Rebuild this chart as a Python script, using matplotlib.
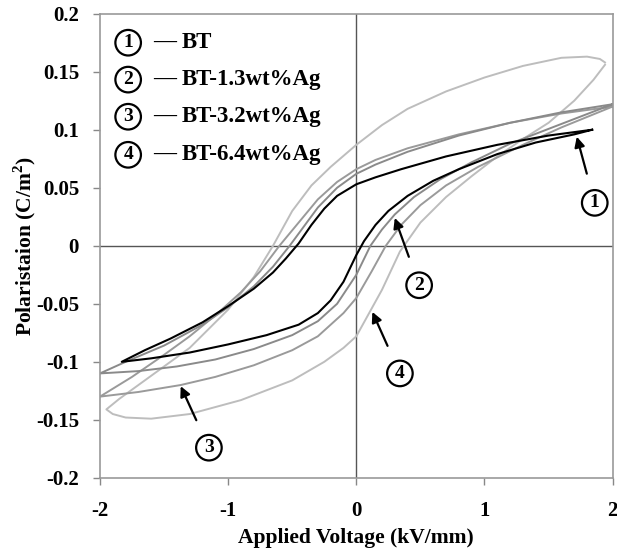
import matplotlib
matplotlib.use("Agg")
import matplotlib.pyplot as plt

plt.rcParams['font.family'] = ['Liberation Serif', 'DejaVu Serif']
plt.rcParams['font.weight'] = 'bold'
plt.rcParams['axes.unicode_minus'] = False
plt.rcParams['mathtext.fontset'] = 'custom'
plt.rcParams['mathtext.rm'] = 'Liberation Serif:bold'
plt.rcParams['mathtext.bf'] = 'Liberation Serif:bold'

# ---- data (upper branch: +E -> -E, lower branch: -E -> +E)
bt_up_x = [1.84, 1.5, 1.1, 0.7, 0.35, 0.15, 0.0, -0.15, -0.25, -0.35, -0.45, -0.55, -0.65, -0.8, -1.0, -1.2, -1.45, -1.65, -1.83]
bt_up_y = [0.100, 0.095, 0.087, 0.077, 0.066, 0.059, 0.053, 0.043, 0.032, 0.018, 0.002, -0.011, -0.023, -0.037, -0.052, -0.066, -0.080, -0.090, -0.100]
bt_lo_x = [-1.83, -1.6, -1.3, -1.0, -0.7, -0.45, -0.3, -0.2, -0.1, 0.0, 0.06, 0.15, 0.25, 0.4, 0.6, 0.8, 1.1, 1.4, 1.7, 1.84]
bt_lo_y = [-0.100, -0.097, -0.092, -0.085, -0.077, -0.068, -0.058, -0.047, -0.031, -0.008, 0.004, 0.018, 0.030, 0.043, 0.056, 0.066, 0.079, 0.089, 0.096, 0.100]

ag13_up_x = [2.0, 1.6, 1.2, 0.8, 0.4, 0.15, 0.0, -0.15, -0.3, -0.42, -0.52, -0.65, -0.8, -1.0, -1.2, -1.5, -1.8, -2.0]
ag13_up_y = [0.122, 0.115, 0.106, 0.095, 0.081, 0.070, 0.062, 0.050, 0.033, 0.015, 0.000, -0.018, -0.035, -0.053, -0.068, -0.086, -0.100, -0.110]
ag13_lo_x = [-2.0, -1.7, -1.4, -1.1, -0.8, -0.5, -0.3, -0.15, 0.0, 0.11, 0.2, 0.3, 0.45, 0.65, 0.9, 1.2, 1.6, 2.0]
ag13_lo_y = [-0.110, -0.108, -0.104, -0.098, -0.089, -0.077, -0.065, -0.050, -0.025, 0.000, 0.014, 0.027, 0.042, 0.057, 0.072, 0.088, 0.105, 0.122]

ag32_up_x = [2.0, 1.6, 1.2, 0.8, 0.4, 0.15, 0.0, -0.15, -0.3, -0.45, -0.6, -0.75, -0.9, -1.1, -1.3, -1.5, -1.75, -2.0]
ag32_up_y = [0.120, 0.114, 0.106, 0.096, 0.084, 0.074, 0.066, 0.055, 0.040, 0.020, 0.000, -0.022, -0.040, -0.060, -0.078, -0.094, -0.113, -0.130]
ag32_lo_x = [-2.0, -1.7, -1.37, -1.1, -0.8, -0.5, -0.3, -0.1, 0.0, 0.12, 0.23, 0.35, 0.5, 0.7, 0.95, 1.3, 1.6, 2.0]
ag32_lo_y = [-0.130, -0.126, -0.120, -0.113, -0.103, -0.090, -0.078, -0.058, -0.045, -0.022, 0.000, 0.018, 0.035, 0.052, 0.068, 0.087, 0.102, 0.120]

ag64_up_x = [1.94, 1.9, 1.8, 1.6, 1.3, 1.0, 0.7, 0.4, 0.2, 0.0, -0.2, -0.35, -0.5, -0.65, -0.8, -1.0, -1.3, -1.6, -1.85, -1.95]
ag64_up_y = [0.158, 0.161, 0.163, 0.162, 0.155, 0.145, 0.133, 0.118, 0.104, 0.087, 0.068, 0.052, 0.030, 0.000, -0.027, -0.055, -0.088, -0.112, -0.132, -0.141]
ag64_lo_x = [-1.95, -1.9, -1.8, -1.6, -1.3, -0.9, -0.5, -0.25, -0.1, 0.0, 0.1, 0.2, 0.34, 0.5, 0.7, 0.9, 1.1, 1.3, 1.5, 1.7, 1.85, 1.94]
ag64_lo_y = [-0.141, -0.145, -0.148, -0.149, -0.145, -0.133, -0.116, -0.100, -0.088, -0.078, -0.058, -0.038, -0.005, 0.020, 0.042, 0.060, 0.077, 0.092, 0.106, 0.125, 0.143, 0.156]

labels = ['BT', 'BT-1.3wt%Ag', 'BT-3.2wt%Ag', 'BT-6.4wt%Ag']
x_ticks = [-2, -1, 0, 1, 2]
y_ticks = [-0.2, -0.15, -0.1, -0.05, 0, 0.05, 0.1, 0.15, 0.2]
y_ticklabels = ['-0.2', '-0.15', '-0.1', '-0.05', '0', '0.05', '0.1', '0.15', '0.2']

fig = plt.figure(figsize=(6.17, 5.48), dpi=100)
ax = fig.add_axes([0.162, 0.128, 0.831, 0.847])

# zero lines
ax.axhline(0, color='#555555', lw=1.0, zorder=1)
ax.axvline(0, color='#555555', lw=1.0, zorder=1)

loops = [
    (ag64_up_x, ag64_up_y, ag64_lo_x, ag64_lo_y, '#bdbdbd', 1.4),
    (ag32_up_x, ag32_up_y, ag32_lo_x, ag32_lo_y, '#9a9a9a', 1.4),
    (ag13_up_x, ag13_up_y, ag13_lo_x, ag13_lo_y, '#8a8a8a', 1.4),
    (bt_up_x, bt_up_y, bt_lo_x, bt_lo_y, '#000000', 1.5),
]
for ux, uy, lx, ly, c, w in loops:
    ax.plot(ux + lx, uy + ly, color=c, lw=w, zorder=2, solid_joinstyle='round')

ax.set_xlim(-2, 2)
ax.set_ylim(-0.2, 0.2)
ax.set_xticks(x_ticks)
ax.set_xticklabels([str(v) for v in x_ticks])
ax.set_yticks(y_ticks)
ax.set_yticklabels(y_ticklabels)
ax.tick_params(direction='out', length=5, width=1, color='#888888', labelsize=15)
ax.tick_params(axis='x', pad=12)
ax.tick_params(axis='y', pad=10)
for sp in ax.spines.values():
    sp.set_color('#999999')
    sp.set_linewidth(1.2)

ax.set_xlabel('Applied Voltage (kV/mm)', fontsize=15.5, fontweight='bold', labelpad=5)
ax.set_ylabel(r'Polaristaion (C/m$^{2}$)', fontsize=15.5, fontweight='bold', labelpad=-1.5)

circ = dict(boxstyle='circle,pad=0.22', fc='white', ec='black', lw=1.6)

# legend (drawn as text)
rows = [0.9375, 0.858, 0.778, 0.696]
for i, (lab, yy) in enumerate(zip(labels, rows)):
    ax.text(0.055, yy, str(i + 1), transform=ax.transAxes, fontsize=14,
            ha='center', va='center', bbox=circ, zorder=5)
    ax.text(0.103, yy, '\u2014', transform=ax.transAxes, fontsize=16.5,
            ha='left', va='center', zorder=5)
    ax.text(0.160, yy, lab, transform=ax.transAxes, fontsize=16.5,
            ha='left', va='center', zorder=5)

# circled callouts with arrows
arrow = dict(arrowstyle='-|>', color='black', lw=1.6, mutation_scale=15, shrinkA=12, shrinkB=0)
callouts = [('1', (1.86, 0.037), (1.72, 0.094)),
            ('2', (0.49, -0.034), (0.30, 0.024)),
            ('4', (0.34, -0.110), (0.125, -0.057)),
            ('3', (-1.15, -0.174), (-1.37, -0.121))]
for num, txt_xy, head in callouts:
    ax.annotate(num, xy=head, xytext=txt_xy, fontsize=14, ha='center', va='center',
                bbox=circ, arrowprops=arrow, zorder=6)

fig.savefig('out.png', dpi=100)
